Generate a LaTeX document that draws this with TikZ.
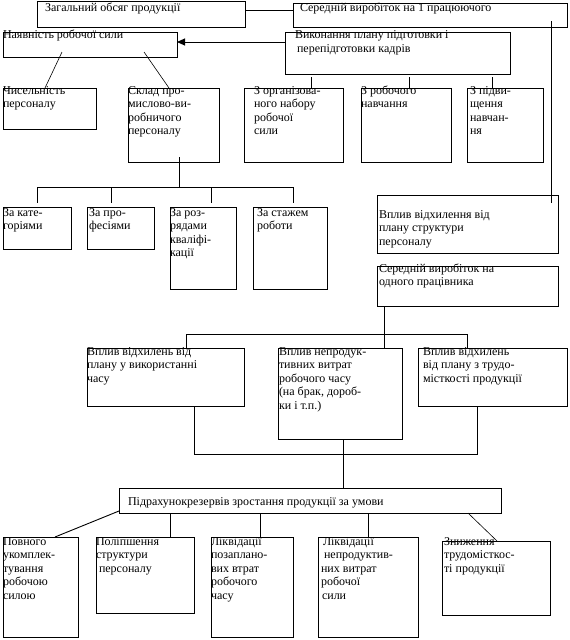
\documentclass[tikz,border=0pt]{standalone}
\usepackage{fontspec}
\setmainfont{Liberation Serif}
\usetikzlibrary{arrows.meta}
\tikzset{
  box/.style={draw, line width=0.9pt, anchor=north west, inner sep=0pt, outer sep=0pt},
  txt/.style={anchor=north west, inner sep=0pt, outer sep=0pt, align=left, font=\fontsize{12}{13.6}\selectfont},
  conn/.style={line width=0.9pt},
  thinconn/.style={line width=0.6pt},
}
\newcommand{\bx}[5]{\node[box, minimum width={(#4-#2)*1pt}, minimum height={(#5-#3)*1pt}] (#1) at (#2,#3) {};}
\newcommand{\tx}[4]{\node[txt] (#1) at (#2,{#3-9}) {\rule{0pt}{9pt}#4};}
\begin{document}
\begin{tikzpicture}[x=1pt,y=-1pt]
\useasboundingbox[fill=white] (0,0) rectangle (570,640);
% boxes
\bx{zag}{37}{1}{245}{27}
\bx{serA}{293}{3}{567}{27}
\bx{nay}{3}{32}{177}{57}
\bx{vyk}{285}{32}{510}{74}
\bx{chys}{3}{88}{96}{129}
\bx{sklad}{128}{88}{219}{162}
\bx{zorg}{244}{88}{343}{162}
\bx{zrob}{361}{88}{451}{162}
\bx{zpid}{467}{88}{543}{162}
\bx{zkat}{3}{207}{71}{249}
\bx{zprof}{87}{207}{154}{249}
\bx{zroz}{170}{207}{236}{289}
\bx{zstazh}{253}{207}{327}{289}
\bx{vplstr}{377}{195}{558}{253}
\bx{serB}{377}{266}{558}{306}
\bx{vch}{87}{348}{244}{406}
\bx{vnep}{278}{348}{402}{439}
\bx{vtrud}{418}{348}{567}{406}
\bx{pidr}{119}{488}{501}{513}
\bx{povn}{3}{537}{78}{637}
\bx{polip}{96}{537}{194}{613}
\bx{likvA}{211}{537}{293}{637}
\bx{likvB}{318}{537}{418}{637}
\bx{znyzh}{442}{541}{550}{615}
% texts
\tx{tzag}{45}{11}{Загальний обсяг продукції}
\tx{tserA}{300}{11}{Середній виробіток на 1 працюючого}
\tx{tnay}{3}{38}{Наявність робочої сили}
\tx{tvyk}{295}{38}{Виконання плану підготовки і\\[0.8pt]\hspace{2pt}перепідготовки кадрів}
\tx{tchys}{3}{94}{Чисельність\\персоналу}
\tx{tsklad}{128}{94}{Склад про-\\мислово-ви-\\робничого\\персоналу}
\tx{tzorg}{254}{94}{З організова-\\ного набору\\робочої\\сили}
\tx{tzrob}{361}{94}{З робочого\\навчання}
\tx{tzpid}{470}{94}{З підви-\\щення\\навчан-\\ня}
\tx{tzkat}{3}{216}{За кате-\\горіями}
\tx{tzprof}{89}{216}{За про-\\фесіями}
\tx{tzroz}{170}{216}{За роз-\\рядами\\кваліфі-\\кації}
\tx{tzstazh}{257}{216}{За стажем\\роботи}
\tx{tvplstr}{379}{218}{Вплив відхилення від\\плану структури\\персоналу}
\tx{tserB}{379}{272}{Середній виробіток на\\одного працівника}
\tx{tvch}{87}{355}{Вплив відхилень від\\плану у використанні\\часу}
\tx{tvnep}{279}{355}{Вплив непродук-\\тивних витрат\\робочого часу\\(на брак, дороб-\\ки і т.п.)}
\tx{tvtrud}{423}{355}{Вплив відхилень\\від плану з трудо-\\місткості продукції}
\tx{tpidr}{128}{505}{Підрахунокрезервів зростання продукції за умови}
\tx{tpovn}{3}{545}{Повного\\укомплек-\\тування\\робочою\\силою}
\tx{tpolip}{96}{545}{Поліпшення\\структури\\\hspace{3pt}персоналу}
\tx{tlikvA}{211}{545}{Ліквідації\\позаплано-\\вих втрат\\робочого\\часу}
\tx{tlikvB}{321}{545}{\hspace{2pt}Ліквідації\\\hspace{3pt}непродуктив-\\них витрат\\робочої\\\hspace{1pt}сили}
\tx{tznyzh}{444}{545}{Зниження\\трудомісткос-\\ті продукції}
% named free ends
\coordinate (dA) at (62,52);
\coordinate (dB) at (144,52);
\coordinate (skladbot) at (179,157);
\coordinate (busTop) at (179,187);
\coordinate (busL) at (37,187);
\coordinate (busR) at (293,187);
\coordinate (rtop) at (551,21);
\coordinate (rbot) at (551,203);
\coordinate (midL) at (186,334);
\coordinate (midR) at (467,334);
\coordinate (lowL) at (194,454);
\coordinate (lowR) at (477,454);
% connectors
\draw[conn] (zag.east |- 0,10) -- (serA.west |- 0,10);
\draw[conn, -{Triangle[length=8pt,width=7pt]}] (vyk.west |- 0,42) -- (nay.east |- 0,42);
\draw[thinconn] (dA) -- (chys.north -| 45,0);
\draw[thinconn] (dB) -- (sklad.north -| 169,0);
\draw[conn] (vyk.south -| 311,0) ++(0,3) -- (zorg.north -| 311,0);
\draw[conn] (vyk.south -| 409,0) ++(0,3) -- (zrob.north -| 409,0);
\draw[conn] (vyk.south -| 492,0) ++(0,3) -- (zpid.north -| 492,0);
\draw[conn] (skladbot) -- (busTop);
\draw[conn] (busL) -- (busR);
\draw[conn] (busL) -- ([yshift=4pt]zkat.north -| busL);
\draw[conn] (busL -| 111,0) -- ([yshift=4pt]zprof.north -| 111,0);
\draw[conn] (busL -| 211,0) -- ([yshift=4pt]zroz.north -| 211,0);
\draw[conn] (busR) -- ([yshift=4pt]zstazh.north -| busR);
\draw[conn] (rtop) -- (rbot);
\draw[conn] (serB.south -| 384,0) -- (vnep.north -| 384,0);
\draw[conn] (vch.north -| midL) -- (midL) -- (midR) -- (vtrud.north -| midR);
\draw[conn] (vch.south -| lowL) -- (lowL) -- (lowR) -- (vtrud.south -| lowR);
\draw[conn] (vnep.south -| 343,0) -- (pidr.north -| 343,0);
\draw[conn] (pidr.west |- 0,511) -- (povn.north -| 55,0);
\draw[conn] (pidr.south -| 170,0) -- (polip.north -| 170,0);
\draw[conn] (pidr.south -| 260,0) -- (likvA.north -| 260,0);
\draw[conn] (pidr.south -| 368,0) -- (likvB.north -| 368,0);
\draw[thinconn] (pidr.south -| 468,0) -- (znyzh.north -| 497,0);
\end{tikzpicture}
\end{document}
